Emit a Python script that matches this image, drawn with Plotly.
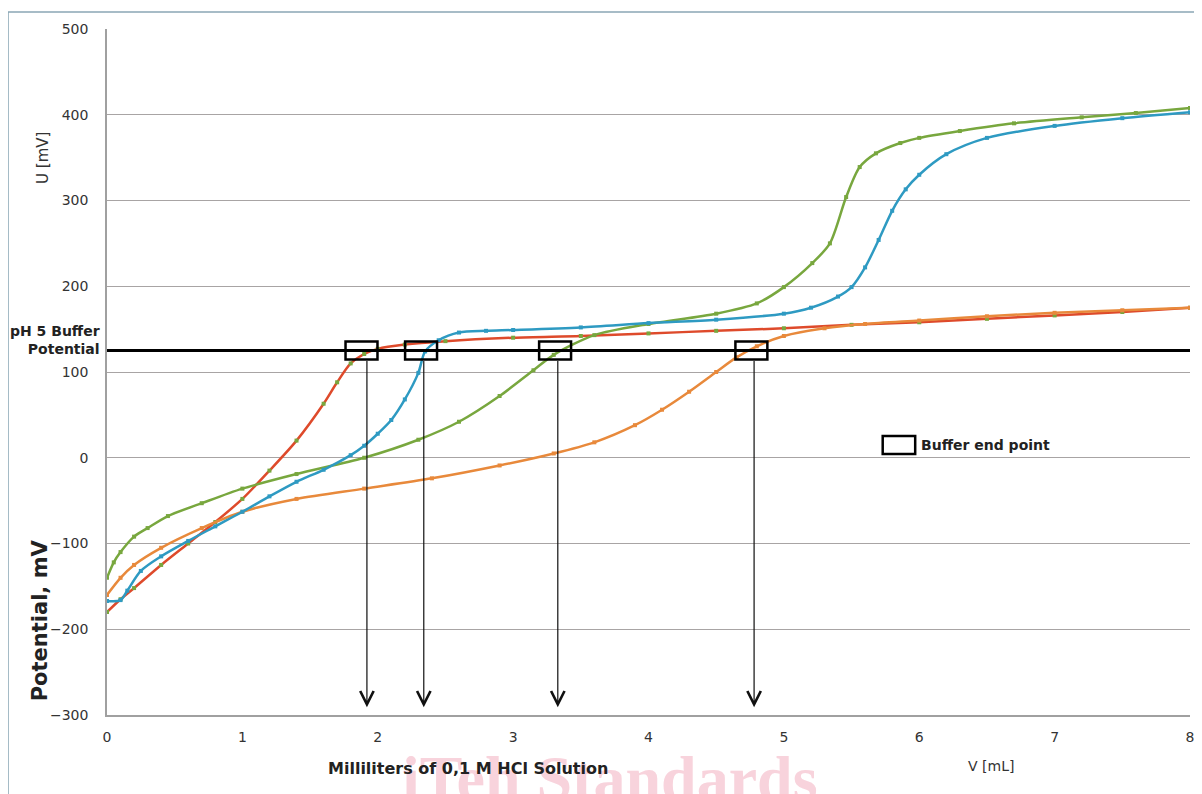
import plotly.graph_objects as go

# ---------------- data ----------------
red_x = [0, 0.1, 0.2, 0.4, 0.6, 0.8, 1.0, 1.2, 1.4, 1.6, 1.7, 1.8, 1.9, 2.0, 2.2, 2.5, 3.0, 3.5, 4.0, 4.5, 5.0, 5.5, 6.0, 6.5, 7.0, 7.5, 8.0]
red_y = [-180, -165, -152, -125, -100, -75, -48, -15, 20, 63, 88, 110, 121, 127, 132, 136, 140, 142, 145, 148, 151, 155, 158, 162, 166, 170, 175]

blue_x = [0, 0.1, 0.15, 0.25, 0.4, 0.6, 0.8, 1.0, 1.2, 1.4, 1.6, 1.8, 1.9, 2.0, 2.1, 2.2, 2.3, 2.35, 2.45, 2.6, 2.8, 3.0, 3.5, 4.0, 4.5, 5.0, 5.2, 5.4, 5.5, 5.6, 5.7, 5.8, 5.9, 6.0, 6.2, 6.5, 7.0, 7.5, 8.0]
blue_y = [-167, -166, -155, -132, -115, -97, -80, -63, -45, -28, -14, 3, 14, 28, 44, 68, 99, 124, 137, 146, 148, 149, 152, 157, 161, 168, 175, 188, 199, 222, 254, 288, 313, 330, 354, 373, 387, 396, 403]

green_x = [0, 0.05, 0.1, 0.2, 0.3, 0.45, 0.7, 1.0, 1.4, 1.9, 2.3, 2.6, 2.9, 3.15, 3.3, 3.6, 4.0, 4.5, 4.8, 5.0, 5.21, 5.34, 5.46, 5.56, 5.68, 5.86, 6.0, 6.3, 6.7, 7.2, 7.6, 8.0]
green_y = [-140, -122, -110, -92, -82, -68, -53, -36, -19, 0, 21, 42, 72, 102, 120, 143, 156, 168, 180, 199, 227, 250, 304, 339, 355, 367, 373, 381, 390, 397, 402, 408]

orange_x = [0, 0.1, 0.2, 0.4, 0.7, 1.0, 1.4, 1.9, 2.4, 2.9, 3.3, 3.6, 3.9, 4.1, 4.3, 4.5, 4.65, 4.8, 5.0, 5.3, 5.6, 6.0, 6.5, 7.0, 7.5, 8.0]
orange_y = [-160, -140, -125, -105, -82, -63, -48, -36, -24, -9, 5, 18, 38, 56, 77, 100, 117, 130, 142, 151, 156, 160, 165, 169, 172, 175]

buffer_potential = 125
endpoint_x = [1.88, 2.32, 3.31, 4.76]
arrow_x = [1.92, 2.34, 3.33, 4.78]
arrow_bottom = -291

x_ticks = [0, 1, 2, 3, 4, 5, 6, 7, 8]
y_ticks = [-300, -200, -100, 0, 100, 200, 300, 400, 500]

# ---------------- styles ----------------
RED = "#DE4A2B"
BLUE = "#2E9AC2"
GREEN = "#78A73E"
ORANGE = "#E8893B"
FONT = "DejaVu Sans"

fig = go.Figure()

series = [
    (red_x, red_y, RED, GREEN),
    (orange_x, orange_y, ORANGE, ORANGE),
    (green_x, green_y, GREEN, GREEN),
    (blue_x, blue_y, BLUE, BLUE),
]
for xs, ys, lc, mc in series:
    fig.add_trace(go.Scatter(
        x=xs, y=ys, mode="lines",
        line=dict(color=lc, width=2.5, shape="spline", smoothing=0.8),
        showlegend=False, hoverinfo="skip"))
    fig.add_trace(go.Scatter(
        x=xs, y=ys, mode="markers",
        marker=dict(color=mc, size=4, symbol="square"),
        showlegend=False, hoverinfo="skip"))

# pH 5 buffer potential line
fig.add_trace(go.Scatter(
    x=[x_ticks[0], x_ticks[-1]], y=[buffer_potential, buffer_potential],
    mode="lines", line=dict(color="black", width=3),
    showlegend=False, hoverinfo="skip"))

shapes = []
annotations = []

bw = 0.118
bh = 10.5
for ex in endpoint_x:
    shapes.append(dict(type="rect", xref="x", yref="y",
                       x0=ex - bw, x1=ex + bw,
                       y0=buffer_potential - bh, y1=buffer_potential + bh,
                       line=dict(color="black", width=2.5), fillcolor="rgba(0,0,0,0)",
                       layer="above"))

for ax_ in arrow_x:
    annotations.append(dict(x=ax_, y=arrow_bottom, ax=ax_, ay=buffer_potential - bh,
                            xref="x", yref="y", axref="x", ayref="y",
                            showarrow=True, arrowhead=5, arrowsize=2.2,
                            arrowwidth=1.2, arrowcolor="#111111", standoff=0,
                            text=""))

# legend-like marker
shapes.append(dict(type="rect", xref="x", yref="y", x0=5.73, x1=5.97, y0=4.5, y1=25.5,
                   line=dict(color="black", width=2.5), fillcolor="white", layer="above"))
annotations.append(dict(x=6.0, y=15, xref="x", yref="y", xanchor="left", yanchor="middle",
                        text="<b>Buffer end point</b>", showarrow=False,
                        font=dict(family=FONT, size=14, color="#222222")))

# outer frame
shapes.append(dict(type="rect", xref="paper", yref="paper",
                   x0=-0.0914, x1=1.0092, y0=-0.2, y1=1.0248,
                   line=dict(color="#8AA6B5", width=1.5), fillcolor="rgba(0,0,0,0)",
                   layer="below"))

# watermark
annotations.append(dict(x=0.4644, y=-0.038, xref="paper", yref="paper",
                        xanchor="center", yanchor="top",
                        text="<b>iTeh Standards</b>", showarrow=False,
                        font=dict(family="Liberation Serif", size=64, color="#F8D3DC")))

# labels
annotations.append(dict(x=0, y=buffer_potential, xref="paper", yref="y",
                        xanchor="right", yanchor="middle", xshift=-5, yshift=11,
                        align="right",
                        text="<b>pH 5 Buffer<br>Potential</b>", showarrow=False,
                        font=dict(family=FONT, size=14, color="#222222")))
annotations.append(dict(x=-0.0591, y=0.812, xref="paper", yref="paper",
                        xanchor="center", yanchor="middle", textangle=-90,
                        text="U [mV]", showarrow=False,
                        font=dict(family=FONT, size=15, color="#333333")))
annotations.append(dict(x=-0.0619, y=0.138, xref="paper", yref="paper",
                        xanchor="center", yanchor="middle", textangle=-90,
                        text="<b>Potential, mV</b>", showarrow=False,
                        font=dict(family=FONT, size=21, color="#222222")))
annotations.append(dict(x=0.3333, y=-0.0773, xref="paper", yref="paper",
                        xanchor="center", yanchor="middle",
                        text="<b>Milliliters of 0,1 M HCl Solution</b>", showarrow=False,
                        font=dict(family=FONT, size=16, color="#222222")))
annotations.append(dict(x=0.816, y=-0.0743, xref="paper", yref="paper",
                        xanchor="center", yanchor="middle",
                        text="V [mL]", showarrow=False,
                        font=dict(family=FONT, size=14, color="#333333")))

fig.update_layout(
    width=1194, height=786,
    margin=dict(l=99, r=8, t=21, b=79),
    paper_bgcolor="white", plot_bgcolor="white",
    shapes=shapes, annotations=annotations,
    showlegend=False,
    font=dict(family=FONT, size=14, color="#333333"),
)
fig.update_xaxes(range=[0, 8], tickvals=x_ticks, showgrid=False, zeroline=False,
                 showline=True, linecolor="#A0A0A0", linewidth=1.5,
                 ticks="", ticklabelstandoff=8,
                 tickfont=dict(family=FONT, size=14, color="#333333"))
fig.update_yaxes(range=[-300, 500], tickvals=y_ticks, showgrid=True,
                 gridcolor="#A8A4A4", gridwidth=1.2, zeroline=False,
                 showline=True, linecolor="#A0A0A0", linewidth=1.5,
                 ticks="", ticklabelstandoff=14,
                 tickfont=dict(family=FONT, size=14, color="#333333"))

fig.write_html("out.html")
